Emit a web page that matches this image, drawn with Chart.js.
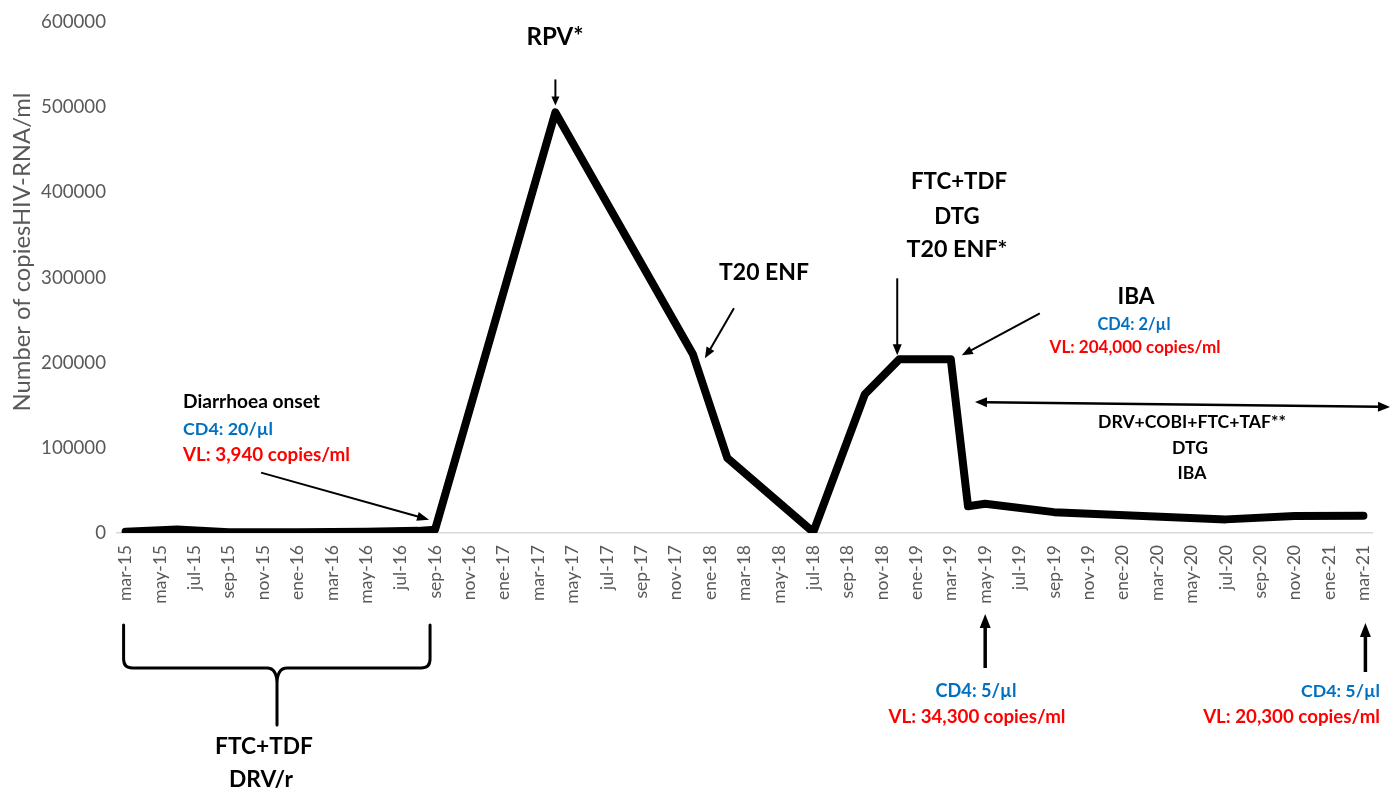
<!DOCTYPE html>
<html>
<head>
<meta charset="utf-8">
<script src="https://cdn.jsdelivr.net/npm/chart.js@4.4.0/dist/chart.umd.min.js"></script>
<style>
  html, body { margin: 0; padding: 0; background: #ffffff; }
  #wrap { width: 1400px; height: 794px; position: relative; }
</style>
</head>
<body>
<div id="wrap"><canvas id="c" width="1400" height="794"></canvas></div>
<script>
// ---- Data ----
const months = [
  'mar-15','abr-15','may-15','jun-15','jul-15','ago-15','sep-15','oct-15','nov-15','dic-15',
  'ene-16','feb-16','mar-16','abr-16','may-16','jun-16','jul-16','ago-16','sep-16','oct-16','nov-16','dic-16',
  'ene-17','feb-17','mar-17','abr-17','may-17','jun-17','jul-17','ago-17','sep-17','oct-17','nov-17','dic-17',
  'ene-18','feb-18','mar-18','abr-18','may-18','jun-18','jul-18','ago-18','sep-18','oct-18','nov-18','dic-18',
  'ene-19','feb-19','mar-19','abr-19','may-19','jun-19','jul-19','ago-19','sep-19','oct-19','nov-19','dic-19',
  'ene-20','feb-20','mar-20','abr-20','may-20','jun-20','jul-20','ago-20','sep-20','oct-20','nov-20','dic-20',
  'ene-21','feb-21','mar-21'
];
const sampleMonths = ['mar-15','jun-15','sep-15','ene-16','may-16','ago-16','sep-16','abr-17','dic-17','feb-18','jul-18','oct-18','dic-18','mar-19','abr-19','may-19','sep-19','jul-20','nov-20','mar-21'];
const viralLoad    = [1500,   4000,    1000,    1000,    1500,    2500,    3940,    494000,  210000,  88000,   1000,    163000,  204000,  204000,  31500,   34300,   24500,   16000,   20000,   20300];
const yTicks = [0, 100000, 200000, 300000, 400000, 500000, 600000];
const yTitle = 'Number of copiesHIV-RNA/ml';

const FAMILY = 'Lato, "Open Sans", sans-serif';
const BLUE = '#0070C0', RED = '#FF0000', GREY = '#595959';

const mctx = document.createElement('canvas').getContext('2d');
function fitSize(text, weight, target) {
  mctx.font = weight + ' 20px ' + FAMILY;
  return 20 * target / mctx.measureText(text).width;
}

// ---- Annotation texts (position in pixels, target width or font-size reference) ----
const texts = [
  {t:'RPV*', x:555, y:37, w:57, c:'#000', a:'center'},
  {t:'T20 ENF', x:764, y:273, w:90, c:'#000', a:'center'},
  {t:'FTC+TDF', x:959, y:182, w:96, c:'#000', a:'center'},
  {t:'DTG', x:957, y:217, ref:2, c:'#000', a:'center'},
  {t:'T20 ENF*', x:957, y:249, w:101, c:'#000', a:'center'},
  {t:'IBA', x:1136, y:297, w:37, c:'#000', a:'center'},
  {t:'CD4: 2/µl', x:1134, y:325, w:73, c:BLUE, a:'center'},
  {t:'VL: 204,000 copies/ml', x:1135, y:348, w:171, c:RED, a:'center'},
  {t:'DRV+COBI+FTC+TAF**', x:1192, y:422, w:188, c:'#000', a:'center'},
  {t:'DTG', x:1190, y:448, ref:8, c:'#000', a:'center'},
  {t:'IBA', x:1192, y:473, ref:8, c:'#000', a:'center'},
  {t:'Diarrhoea onset', x:183, y:402, w:137, c:'#000', a:'left'},
  {t:'CD4: 20/µl', x:183, y:429, w:90, c:BLUE, a:'left'},
  {t:'VL: 3,940 copies/ml', x:183, y:455, w:167, c:RED, a:'left'},
  {t:'FTC+TDF', x:264, y:747, w:98, c:'#000', a:'center'},
  {t:'DRV/r', x:261, y:780, ref:14, c:'#000', a:'center'},
  {t:'CD4: 5/µl', x:976, y:691, w:81, c:BLUE, a:'center'},
  {t:'VL: 34,300 copies/ml', x:977, y:717, w:177, c:RED, a:'center'},
  {t:'CD4: 5/µl', x:1380, y:691, w:79, c:BLUE, a:'right'},
  {t:'VL: 20,300 copies/ml', x:1380, y:717, w:177, c:RED, a:'right'}
];
const textSizes = [];
texts.forEach((o, i) => { textSizes[i] = o.ref !== undefined ? textSizes[o.ref] : fitSize(o.t, 'bold', o.w); });

function arrow(ctx, x1, y1, x2, y2, lw, hl, hw, both) {
  const ang = Math.atan2(y2 - y1, x2 - x1);
  const cx = Math.cos(ang), sy = Math.sin(ang);
  const sx1 = both ? x1 + cx * hl * 0.9 : x1, sy1 = both ? y1 + sy * hl * 0.9 : y1;
  ctx.save();
  ctx.strokeStyle = '#000'; ctx.fillStyle = '#000'; ctx.lineWidth = lw; ctx.lineCap = 'butt';
  ctx.beginPath(); ctx.moveTo(sx1, sy1); ctx.lineTo(x2 - cx * hl * 0.9, y2 - sy * hl * 0.9); ctx.stroke();
  const head = (tx, ty, a) => {
    const c = Math.cos(a), s = Math.sin(a);
    ctx.beginPath();
    ctx.moveTo(tx, ty);
    ctx.lineTo(tx - c * hl - s * hw / 2, ty - s * hl + c * hw / 2);
    ctx.lineTo(tx - c * hl + s * hw / 2, ty - s * hl - c * hw / 2);
    ctx.closePath(); ctx.fill();
  };
  head(x2, y2, ang);
  if (both) head(x1, y1, ang + Math.PI);
  ctx.restore();
}

const annotations = {
  id: 'annotations',
  afterDraw(chart) {
    const ctx = chart.ctx;
    const xs = chart.scales.x, ys = chart.scales.y;
    const px = m => xs.getPixelForValue(months.indexOf(m));
    const py = v => ys.getPixelForValue(v);
    ctx.save();
    // y axis title
    ctx.save();
    const ts = fitSize(yTitle, 'normal', 319);
    ctx.font = 'normal ' + ts + 'px ' + FAMILY;
    ctx.fillStyle = GREY; ctx.textAlign = 'center'; ctx.textBaseline = 'middle';
    ctx.translate(22, 252); ctx.rotate(-Math.PI / 2);
    ctx.fillText(yTitle, 0, 0);
    ctx.restore();

    // texts
    ctx.textBaseline = 'middle';
    texts.forEach((o, i) => {
      ctx.font = 'bold ' + textSizes[i] + 'px ' + FAMILY;
      ctx.fillStyle = o.c; ctx.textAlign = o.a;
      ctx.fillText(o.t, o.x, o.y);
    });

    // arrows pointing to data points
    const pk = [px('abr-17'), py(494000)];
    arrow(ctx, pk[0], pk[1] - 33, pk[0], pk[1] - 7, 2, 9, 8, false);
    const t20 = [px('dic-17'), py(210000)];
    arrow(ctx, t20[0] + 41, t20[1] - 46, t20[0] + 12, t20[1] + 4, 2, 11, 9, false);
    const pl1 = [px('dic-18'), py(204000)];
    arrow(ctx, pl1[0] - 2, pl1[1] - 81, pl1[0] - 2, pl1[1] - 4, 2, 11, 9, false);
    const pl2 = [px('mar-19'), py(204000)];
    arrow(ctx, pl2[0] + 89, pl2[1] - 46, pl2[0] + 11, pl2[1] - 4, 2, 11, 9, false);
    const d16 = [px('sep-16'), py(3940)];
    arrow(ctx, d16[0] - 174, d16[1] - 57, d16[0] - 6, d16[1] - 10, 2, 12, 9, false);
    // treatment period double arrow
    arrow(ctx, px('abr-19') + 7, 402, 1390, 407, 2.5, 12, 10, true);
    // bottom up arrows
    const m19 = px('may-19');
    arrow(ctx, m19, 668, m19, 614, 3.5, 14, 11, false);
    const m21 = px('mar-21');
    arrow(ctx, m21 + 2, 672, m21 + 2, 623, 3.5, 14, 11, false);

    // curly bracket
    const L = px('mar-15') - 2, R = px('sep-16') - 5, C = 277;
    const top = 625, mid = 668, tip = 725, r = 9, r2 = 10;
    ctx.strokeStyle = '#000'; ctx.lineWidth = 3; ctx.lineCap = 'round'; ctx.lineJoin = 'round';
    ctx.beginPath();
    ctx.moveTo(L, top); ctx.lineTo(L, mid - r);
    ctx.quadraticCurveTo(L, mid, L + r, mid);
    ctx.lineTo(C - r2, mid);
    ctx.quadraticCurveTo(C, mid, C, mid + r2 * 1.6);
    ctx.lineTo(C, tip);
    ctx.moveTo(R, top); ctx.lineTo(R, mid - r);
    ctx.quadraticCurveTo(R, mid, R - r, mid);
    ctx.lineTo(C + r2, mid);
    ctx.quadraticCurveTo(C, mid, C, mid + r2 * 1.6);
    ctx.stroke();
    ctx.restore();
  }
};

const xTickSize = fitSize('mar-15', 'normal', 56);
const yTickSize = fitSize('600000', 'normal', 65);

new Chart(document.getElementById('c'), {
  type: 'line',
  data: {
    labels: months,
    datasets: [{
      label: 'HIV-RNA',
      data: sampleMonths.map((m, i) => ({ x: m, y: viralLoad[i] })),
      borderColor: '#000000',
      backgroundColor: '#000000',
      borderWidth: 8,
      borderCapStyle: 'round',
      borderJoinStyle: 'round',
      pointRadius: 0,
      tension: 0,
      spanGaps: true,
      fill: false
    }]
  },
  options: {
    responsive: false,
    animation: false,
    devicePixelRatio: 1,
    layout: { padding: { left: 0, right: 28, top: 18, bottom: 0 } },
    plugins: { legend: { display: false }, tooltip: { enabled: false } },
    scales: {
      x: {
        type: 'category',
        offset: true,
        grid: { display: false, drawTicks: false },
        border: { display: true, color: '#d9d9d9', width: 1.5 },
        ticks: {
          autoSkip: false, maxRotation: 90, minRotation: 90, padding: 12,
          color: GREY, font: { family: FAMILY, size: xTickSize },
          callback: (v, i) => (i % 2 === 0 ? months[i] : '')
        },
        afterFit: s => { s.height = 794 - 533; }
      },
      y: {
        min: 0, max: 600000,
        afterBuildTicks: s => { s.ticks = yTicks.map(v => ({ value: v })); },
        grid: { display: false, drawTicks: false },
        border: { display: false },
        ticks: { padding: 11, color: GREY, font: { family: FAMILY, size: yTickSize }, callback: v => String(v) },
        afterFit: s => { s.width = 117; }
      }
    }
  },
  plugins: [annotations]
});
</script>
</body>
</html>
